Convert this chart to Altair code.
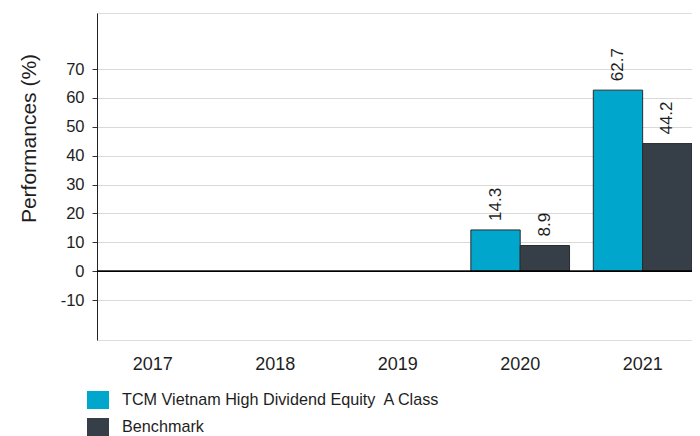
import altair as alt
import pandas as pd

years = ["2017", "2018", "2019", "2020", "2021"]
series_names = ["TCM Vietnam High Dividend Equity\u00a0 A Class", "Benchmark"]
fund_values = [None, None, None, 14.3, 62.7]
bench_values = [None, None, None, 8.9, 44.2]
series_colors = ["#00A6CC", "#363F48"]
y_ticks = [-10, 0, 10, 20, 30, 40, 50, 60, 70]

rows = []
for i, y in enumerate(years):
    rows.append({"year": y, "series": series_names[0], "value": fund_values[i]})
    rows.append({"year": y, "series": series_names[1], "value": bench_values[i]})
df = pd.DataFrame(rows)
df_valid = df.dropna()

FONT = "Liberation Sans, Arial, sans-serif"
TXT = "#1e1e1e"

x_enc = alt.X(
    "year:N",
    sort=years,
    scale=alt.Scale(domain=years, paddingInner=0.194, paddingOuter=0.0265, align=1),
    axis=alt.Axis(
        title=None, domain=False, ticks=False, tickSize=0, labelPadding=15,
        labelFontSize=18, labelColor=TXT, labelFont=FONT, labelAngle=0,
    ),
)
y_enc = alt.Y(
    "value:Q",
    scale=alt.Scale(domain=[-23.8, 89.4], nice=False, zero=False),
    axis=alt.Axis(
        values=y_ticks, title="Performances (%)", titleFontSize=21, titleFontWeight="normal",
        titleColor=TXT, titleFont=FONT, titleAngle=270, titleX=-62, titleY=125,
        titleAlign="center", titleBaseline="alphabetic",
        labelFontSize=16.5, labelColor=TXT, labelFont=FONT, labelPadding=8,
        labelExpr="replace(datum.label, '\u2212', '-')",
        tickSize=5, tickColor="#333333", domainColor="#222222",
        gridColor="#D9D9D9", gridWidth=1,
    ),
)
xoff = alt.XOffset("series:N", sort=series_names, scale=alt.Scale(domain=series_names, paddingInner=0))
color = alt.Color(
    "series:N",
    sort=series_names,
    scale=alt.Scale(domain=series_names, range=series_colors),
    legend=alt.Legend(
        title=None, orient="none", legendX=-9, legendY=377, direction="vertical",
        symbolType="M-1.1,-0.9H1.1V0.9H-1.1Z", symbolSize=400, symbolStrokeWidth=0,
        symbolOpacity=1, labelFontSize=16.2, labelFont=FONT, labelColor=TXT,
        labelOffset=14, rowPadding=8, padding=0, labelLimit=600,
    ),
)

bars = alt.Chart(df_valid).mark_bar(stroke="#2a2a2a", strokeWidth=1).encode(
    x=x_enc, xOffset=xoff, y=y_enc, color=color
)
labels = alt.Chart(df_valid).mark_text(
    angle=270, align="left", baseline="middle", dx=9, fontSize=17, font=FONT, color=TXT
).encode(
    x=alt.X("year:N", sort=years),
    xOffset=alt.XOffset("series:N", sort=series_names),
    y=alt.Y("value:Q"),
    text=alt.Text("value:Q", format=".1f"),
)
zero = alt.Chart(df_valid).mark_rule(color="#000000", strokeWidth=1).encode(y=alt.datum(0))

chart = alt.layer(bars, zero, labels).properties(
    width=595, height=327,
    autosize=alt.AutoSizeParams(type="none"),
    padding={"left": 89, "top": 5, "right": 0, "bottom": 96},
).configure_view(stroke=None).configure(background="white")

chart.save("out.html", embed_options={"renderer": "svg", "actions": False})
